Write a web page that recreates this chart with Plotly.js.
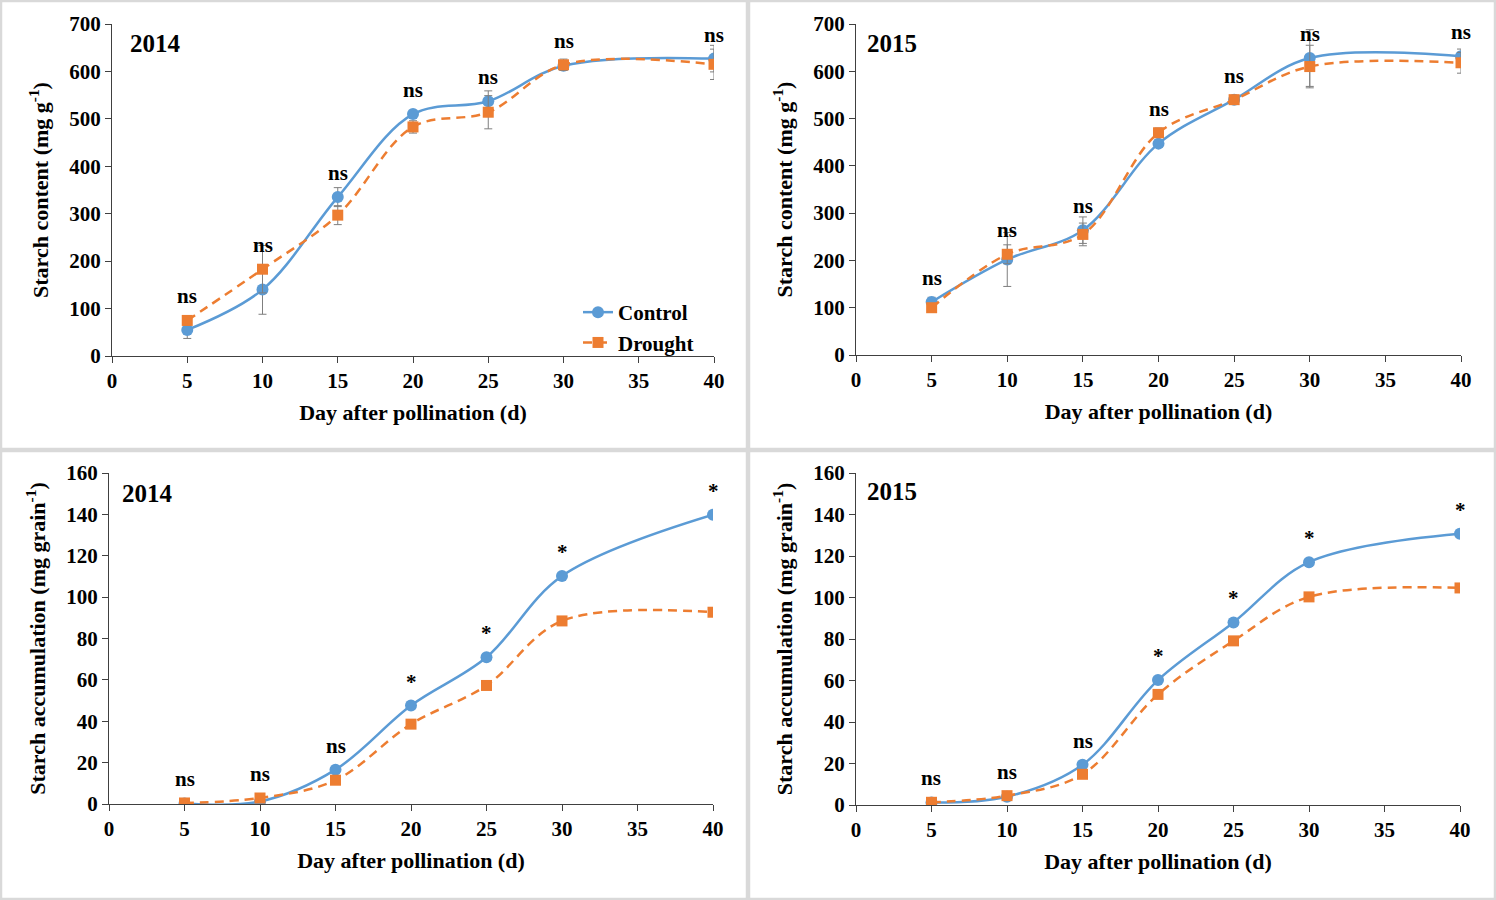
<!DOCTYPE html>
<html>
<head>
<meta charset="utf-8">
<script src="https://cdn.plot.ly/plotly-3.0.1.min.js"></script>
<style>
html,body{margin:0;padding:0;background:#fff;}
#chart{width:1496px;height:900px;}
</style>
</head>
<body>
<div id="chart"></div>
<script>
// ---- data ----
const days = [5, 10, 15, 20, 25, 30, 40];
const xTicks = [0, 5, 10, 15, 20, 25, 30, 35, 40];

const content2014Control = [55, 140, 335, 510, 537, 612, 627];
const content2014Drought = [75, 183, 297, 483, 514, 614, 615];
const content2014ControlErr = [18, 52, 20, 8, 22, 10, 28];
const content2014DroughtErr = [10, 50, 20, 13, 35, 12, 32];
const content2014Sig = ['ns', 'ns', 'ns', 'ns', 'ns', 'ns', 'ns'];

const content2015Control = [112, 202, 264, 447, 540, 628, 632];
const content2015Drought = [100, 213, 255, 470, 540, 610, 618];
const content2015ControlErr = [10, 57, 28, 8, 8, 60, 15];
const content2015DroughtErr = [8, 20, 24, 10, 8, 45, 22];
const content2015Sig = ['ns', 'ns', 'ns', 'ns', 'ns', 'ns', 'ns'];

const accum2014Control = [0.3, 1.2, 16.6, 47.6, 70.9, 110.2, 139.8];
const accum2014Drought = [0.5, 2.9, 11.5, 38.6, 57.3, 88.5, 92.7];
const accum2014Sig = ['ns', 'ns', 'ns', '*', '*', '*', '*'];

const accum2015Control = [1.2, 4.0, 19.4, 60.2, 88.0, 117.0, 130.7];
const accum2015Drought = [1.3, 4.5, 14.8, 53.3, 79.1, 100.3, 104.6];
const accum2015Sig = ['ns', 'ns', 'ns', '*', '*', '*', '*'];

const seriesNames = ['Control', 'Drought'];
const yearLabels = ['2014', '2015', '2014', '2015'];
const xTitle = 'Day after pollination (d)';
const yTitleContent = 'Starch content (mg g<sup>-1</sup>)';
const yTitleAccum = 'Starch accumulation (mg grain<sup>-1</sup>)';

// ---- styling ----
const W = 1496, H = 900;
const FONT = 'Liberation Serif, Times New Roman, serif';
const cBlue = '#5B9BD5', cOrange = '#ED7D31';
const px = v => v / W;
const py = v => 1 - v / H;

const panels = [
  {c: content2014Control, d: content2014Drought, ce: content2014ControlErr, de: content2014DroughtErr, sig: content2014Sig,
   yr: [0, 700], dt: 100, ytitle: yTitleContent, xd: [112, 714], yd: [24, 356], year: [128, 44]},
  {c: content2015Control, d: content2015Drought, ce: content2015ControlErr, de: content2015DroughtErr, sig: content2015Sig,
   yr: [0, 700], dt: 100, ytitle: yTitleContent, xd: [856, 1461], yd: [24, 355], year: [865, 44]},
  {c: accum2014Control, d: accum2014Drought, ce: null, de: null, sig: accum2014Sig,
   yr: [0, 160], dt: 20, ytitle: yTitleAccum, xd: [109, 713], yd: [473, 804], year: [120, 493]},
  {c: accum2015Control, d: accum2015Drought, ce: null, de: null, sig: accum2015Sig,
   yr: [0, 160], dt: 20, ytitle: yTitleAccum, xd: [856, 1460], yd: [473, 805], year: [865, 492]}
];

const traces = [];
const annotations = [];
const layout = {
  width: W, height: H,
  margin: {l: 0, r: 0, t: 0, b: 0},
  paper_bgcolor: '#ffffff', plot_bgcolor: 'rgba(0,0,0,0)',
  font: {family: FONT, color: '#000', size: 21, weight: 'bold'},
  showlegend: true,
  legend: {
    x: px(578), y: py(292), xanchor: 'left', yanchor: 'top',
    bgcolor: 'rgba(0,0,0,0)',
    font: {family: FONT, size: 21, color: '#000', weight: 'bold'},
    tracegroupgap: 0, itemwidth: 30
  },
  shapes: [],
  annotations: annotations
};

panels.forEach((p, i) => {
  const n = i + 1;
  const xa = 'x' + (n === 1 ? '' : n);
  const ya = 'y' + (n === 1 ? '' : n);
  const errC = p.ce ? {type: 'data', array: p.ce, visible: true, color: '#7f7f7f', thickness: 1, width: 4} : {visible: false};
  const errD = p.de ? {type: 'data', array: p.de, visible: true, color: '#7f7f7f', thickness: 1, width: 4} : {visible: false};
  traces.push({
    x: days, y: p.c, name: seriesNames[0], legendgroup: 'c', showlegend: i === 0,
    xaxis: xa, yaxis: ya, type: 'scatter', mode: 'lines+markers',
    line: {color: cBlue, width: 2.5, shape: 'spline', smoothing: 1},
    marker: {symbol: 'circle', size: 12, color: cBlue},
    error_y: errC
  });
  traces.push({
    x: days, y: p.d, name: seriesNames[1], legendgroup: 'd', showlegend: i === 0,
    xaxis: xa, yaxis: ya, type: 'scatter', mode: 'lines+markers',
    line: {color: cOrange, width: 2.5, shape: 'spline', smoothing: 1, dash: '9px,6px'},
    marker: {symbol: 'square', size: 11, color: cOrange},
    error_y: errD
  });

  const axKey = n === 1 ? '' : n;
  layout['xaxis' + axKey] = {
    domain: [px(p.xd[0]), px(p.xd[1])], anchor: ya, range: [0, 40],
    tickmode: 'array', tickvals: xTicks, ticktext: xTicks.map(String),
    showgrid: false, zeroline: false, showline: true, linecolor: '#404040', linewidth: 1,
    ticks: 'outside', ticklen: 6, tickcolor: '#404040',
    tickfont: {family: FONT, size: 21, color: '#000', weight: 'bold'},
    title: {text: xTitle, standoff: 12, font: {family: FONT, size: 22, color: '#000', weight: 'bold'}},
    fixedrange: true
  };
  layout['yaxis' + axKey] = {
    domain: [py(p.yd[1]), py(p.yd[0])], anchor: xa, range: p.yr, dtick: p.dt, tick0: 0,
    showgrid: false, zeroline: false, showline: true, linecolor: '#404040', linewidth: 1,
    ticks: 'outside', ticklen: 6, tickcolor: '#404040',
    tickfont: {family: FONT, size: 21, color: '#000', weight: 'bold'},
    title: {text: p.ytitle, standoff: 14, font: {family: FONT, size: 22, color: '#000', weight: 'bold'}},
    fixedrange: true
  };

  // significance labels above the higher point
  days.forEach((dd, k) => {
    annotations.push({
      x: dd, y: Math.max(p.c[k], p.d[k]), xref: xa, yref: ya,
      text: p.sig[k], showarrow: false, yanchor: 'middle', yshift: 24,
      font: {family: FONT, size: 21, color: '#000', weight: 'bold'}
    });
  });
  // year label
  annotations.push({
    x: px(p.year[0]), y: py(p.year[1]), xref: 'paper', yref: 'paper',
    xanchor: 'left', yanchor: 'middle', text: yearLabels[i], showarrow: false,
    font: {family: FONT, size: 25, color: '#000', weight: 'bold'}
  });
});

// panel frames
const frameColor = '#d9d9d9';
[[1, 1, 747, 449], [749, 1, 1495, 449], [1, 451, 747, 899], [749, 451, 1495, 899]].forEach(r => {
  layout.shapes.push({
    type: 'rect', xref: 'paper', yref: 'paper',
    x0: px(r[0]), x1: px(r[2]), y0: py(r[3]), y1: py(r[1]),
    line: {color: frameColor, width: 2.5}, fillcolor: 'rgba(0,0,0,0)', layer: 'below'
  });
});

Plotly.newPlot('chart', traces, layout, {staticPlot: true, displayModeBar: false});
</script>
</body>
</html>
